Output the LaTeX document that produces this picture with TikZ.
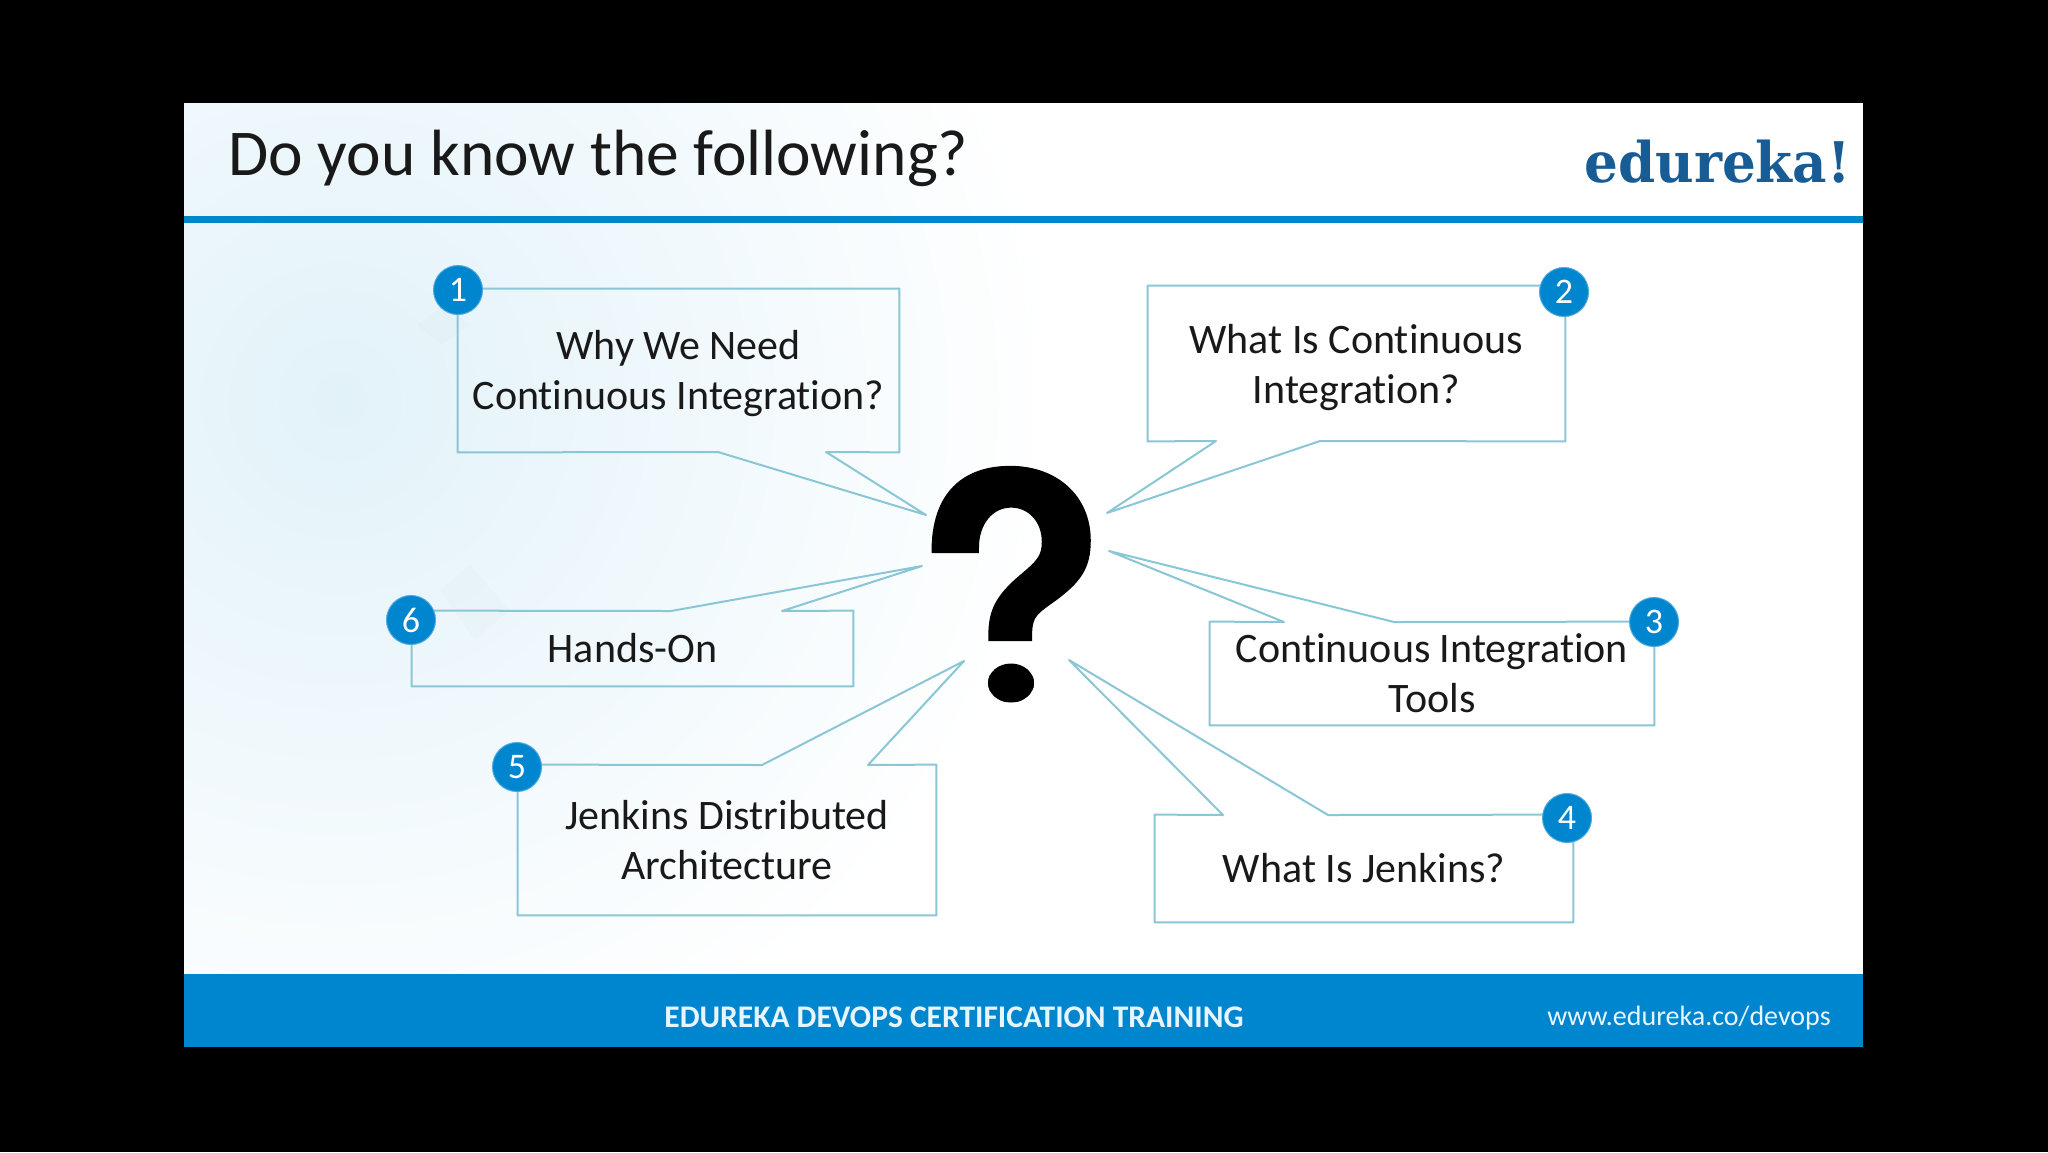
\documentclass[tikz,border=0pt]{standalone}
\usepackage{fontspec}
\usepackage{tikz}
\setmainfont[Ligatures=NoCommon]{Carlito}
\newfontfamily\logofont[FakeStretch=0.95]{DejaVu Serif}
\newfontfamily\markfont[BoldFeatures={FakeBold=1.5}]{TeX Gyre Heros}
\definecolor{edublue}{RGB}{0, 133, 207}
\definecolor{logoblue}{RGB}{24, 92, 150}
\definecolor{linecyan}{RGB}{138, 198, 214}
\definecolor{paleblue}{RGB}{226, 242, 249}
\definecolor{footertext}{RGB}{232, 245, 252}
\usetikzlibrary{positioning, calc, shapes.geometric}

\begin{document}
\begin{tikzpicture}[
    x=0.5pt, y=-0.5pt,
    outline/.style={draw=linecyan, line width=1pt, line join=round},
    streak/.style={fill=black, opacity=0.012},
    bubbletext/.style={rectangle, align=center, inner sep=0pt, font=\fontsize{21}{25}\selectfont, text=black!90},
    badge/.style={circle, fill=edublue, draw=edublue!70!white, line width=0.5pt, minimum size=24.5pt, inner sep=0pt, text=white, font=\fontsize{18}{18}\selectfont}
]
    % Frame and slide
    \fill[black] (0,0) rectangle (2048,1152);
    \fill[white] (184,103) rectangle (1863,1047);
    \begin{scope}
        \clip (184,103) rectangle (1863,974);
        \shade[inner color=paleblue, outer color=white] (340,400) circle (720);
        \fill[streak] (417,325) -- (445,305) -- (470,325) -- (442,345) -- cycle;
        \fill[streak] (440,590) -- (470,565) -- (510,610) -- (475,640) -- cycle;
    \end{scope}
    \fill[edublue] (184,216) rectangle (1863,223);
    \fill[edublue] (184,974) rectangle (1863,1047);

    % Header and footer texts
    \node[anchor=base west, inner sep=0pt, font=\fontsize{32.7}{32.7}\selectfont, text=black!90] (title) at (228,175) {Do you know the following?};
    \node[anchor=base east, inner sep=0pt, font=\logofont\bfseries\fontsize{28}{28}\selectfont, text=logoblue] (logo) at (1851,182) {edureka!};
    \node[anchor=center, inner sep=0pt, font=\bfseries\fontsize{15.75}{15.75}\selectfont, text=footertext] (course) at (954,1017) {EDUREKA DEVOPS CERTIFICATION TRAINING};
    \node[anchor=center, inner sep=0pt, font=\fontsize{14}{14}\selectfont, text=footertext] (site) at (1689,1018) {www.edureka.co/devops};

    % Question mark, with a round dot
    \begin{scope}
        \clip (900,440) rectangle (1120,650) (1011,683) ellipse (23 and 19.5);
        \node[inner sep=0pt, font=\markfont\bfseries\fontsize{157}{157}\selectfont, text=black] (mark) at (1011,585) {?};
    \end{scope}

    % Tips of the tails
    \coordinate (tipone) at (926,515);
    \coordinate (tiptwo) at (1107,513);
    \coordinate (tipthree) at (1109,551);
    \coordinate (tipfour) at (1069,660);
    \coordinate (tipfive) at (964,661);
    \coordinate (tipsix) at (922,566);

    % Bubble texts
    \node[bubbletext, minimum width=220.5pt, minimum height=81.5pt] (why) at (678.5,370.5) {\rule{0pt}{18pt}Why We Need\\Continuous Integration?};
    \node[bubbletext, minimum width=208.5pt, minimum height=77.5pt] (what) at (1356.5,363.5) {\rule{0pt}{18.5pt}What Is Continuous\\Integration?};
    \node[bubbletext, minimum width=222pt, minimum height=51.5pt] (tools) at (1432,673.5) {Continuous Integration\\Tools};
    \node[bubbletext, minimum width=209pt, minimum height=53.5pt] (jenkins) at (1364,868.5) {What Is Jenkins?};
    \node[bubbletext, minimum width=209pt, minimum height=75pt] (arch) at (727,840) {Jenkins Distributed\\Architecture};
    \node[bubbletext, minimum width=220.5pt, minimum height=37.5pt] (hands) at (632.5,648.5) {Hands-On};

    % Outlines with tails
    \draw[outline] (why.north west) -- (why.north east) -- (why.south east) -- (826,452) -- (tipone) -- (718,452) -- (why.south west) -- cycle;
    \draw[outline] (what.north west) -- (what.north east) -- (what.south east) -- (1320,441) -- (tiptwo) -- (1216,441) -- (what.south west) -- cycle;
    \draw[outline] (tools.north west) -- (1284,622) -- (tipthree) -- (1394,622) -- (tools.north east) -- (tools.south east) -- (tools.south west) -- cycle;
    \draw[outline] (jenkins.north west) -- (1223,815) -- (tipfour) -- (1328,815) -- (jenkins.north east) -- (jenkins.south east) -- (jenkins.south west) -- cycle;
    \draw[outline] (arch.north west) -- (762,765) -- (tipfive) -- (868,765) -- (arch.north east) -- (arch.south east) -- (arch.south west) -- cycle;
    \draw[outline] (hands.north west) -- (671,611) -- (tipsix) -- (782,611) -- (hands.north east) -- (hands.south east) -- (hands.south west) -- cycle;

    % Numbers
    \node[badge] (one) at (458,290) {1};
    \node[badge] (two) at (1564,292) {2};
    \node[badge] (three) at (1654,622) {3};
    \node[badge] (four) at (1567,818) {4};
    \node[badge] (five) at (517,767) {5};
    \node[badge] (six) at (411,620) {6};

\end{tikzpicture}
\end{document}
